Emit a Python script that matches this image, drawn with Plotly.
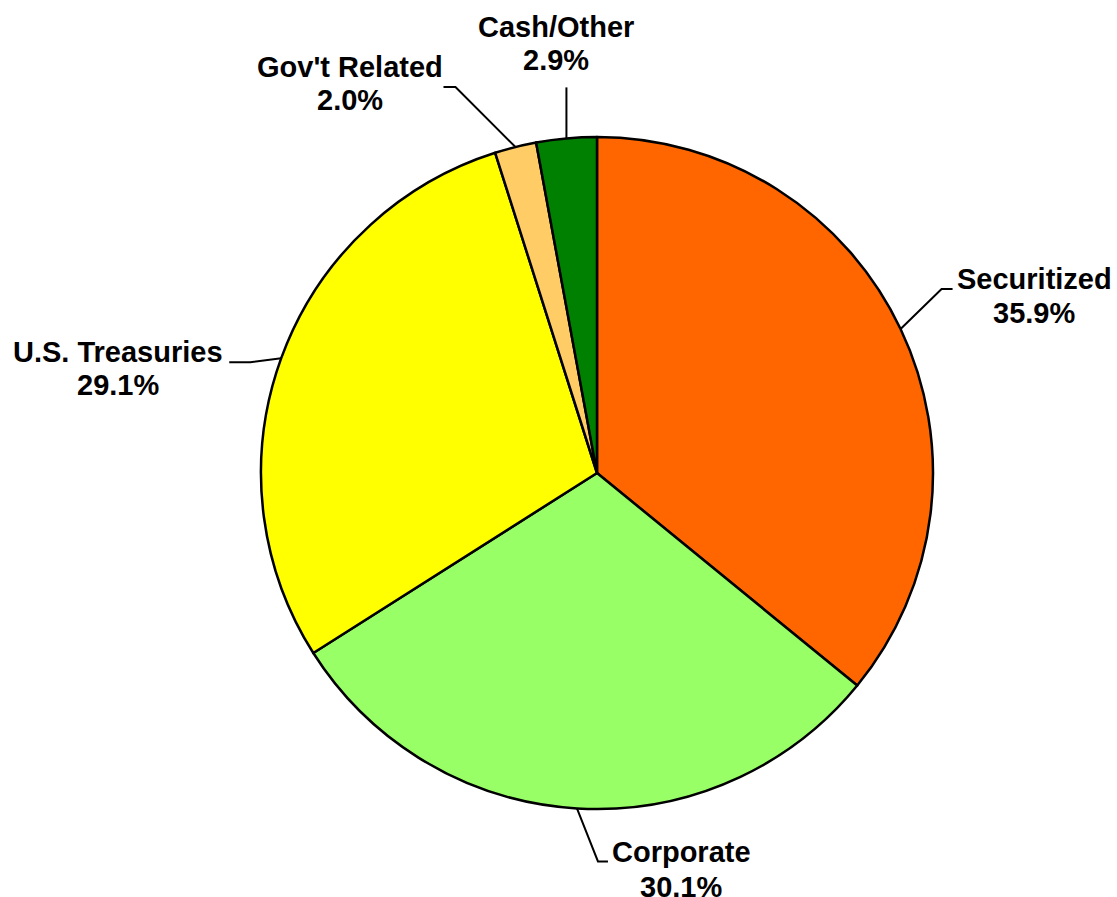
import math
import plotly.graph_objects as go

# Portfolio sector allocation (percent), clockwise from 12 o'clock
sectors = ["Securitized", "Corporate", "U.S. Treasuries", "Gov't Related", "Cash/Other"]
weights = [35.9, 30.1, 29.1, 2.0, 2.9]
colors = ["#FF6600", "#99FF66", "#FFFF00", "#FFCC66", "#008000"]

W, H = 1117, 897
CX, CY, R = 597, 473, 336  # pie centre and radius in pixels

# Leader line shape per label: elbow and end offsets from the slice's edge point,
# and text offsets (x, line-1 y, line-2 y) from the leader end.
leaders = {
    "Securitized": ((41, -40), (52, -40), (81.5, -10, 24)),
    "Corporate": ((21, 53), (31, 53), (73.5, -9, 26)),
    "U.S. Treasuries": ((-31, 4), (-52, 4), (-111.5, -10, 23)),
    "Gov't Related": ((-60, -60), (-72, -60), (-93.5, -20, 13)),
    "Cash/Other": ((0, -51), (0, -51), (-10, -60, -27)),
}


def px(x):
    return x / W


def py(y):
    return 1 - y / H


fig = go.Figure(
    go.Pie(
        labels=sectors,
        values=weights,
        sort=False,
        direction="clockwise",
        rotation=0,
        marker=dict(colors=colors, line=dict(color="#000000", width=2.5)),
        textinfo="none",
        hoverinfo="label+percent",
        showlegend=False,
        domain=dict(x=[px(CX - R), px(CX + R)], y=[py(CY + R), py(CY - R)]),
    )
)

font = dict(family="Liberation Sans, Arial, sans-serif", size=29, color="#000000")
shapes, annotations = [], []
total = sum(weights)
cum = 0.0
for name, val in zip(sectors, weights):
    mid = (cum + val / 2) / total * 2 * math.pi
    cum += val
    ax = CX + R * math.sin(mid)
    ay = CY - R * math.cos(mid)
    (ex, ey), (tx, ty), (lx, l1, l2) = leaders[name]
    bx, by = ax + ex, ay + ey
    end_x, end_y = ax + tx, ay + ty
    shapes.append(dict(
        type="path", xref="paper", yref="paper",
        path=f"M {px(ax)} {py(ay)} L {px(bx)} {py(by)} L {px(end_x)} {py(end_y)}",
        line=dict(color="#000000", width=2),
    ))
    annotations.append(dict(
        x=px(end_x + lx), y=py(end_y + l1), xref="paper", yref="paper",
        text=f"<b>{name}</b>", showarrow=False, xanchor="center", yanchor="middle",
        font=font,
    ))
    annotations.append(dict(
        x=px(end_x + lx), y=py(end_y + l2), xref="paper", yref="paper",
        text=f"<b>{val:.1f}%</b>", showarrow=False, xanchor="center", yanchor="middle",
        font=font,
    ))

fig.update_layout(
    width=W, height=H, autosize=False,
    margin=dict(l=0, r=0, t=0, b=0),
    paper_bgcolor="#FFFFFF", plot_bgcolor="#FFFFFF",
    shapes=shapes, annotations=annotations,
)

fig.write_html("out.html")
